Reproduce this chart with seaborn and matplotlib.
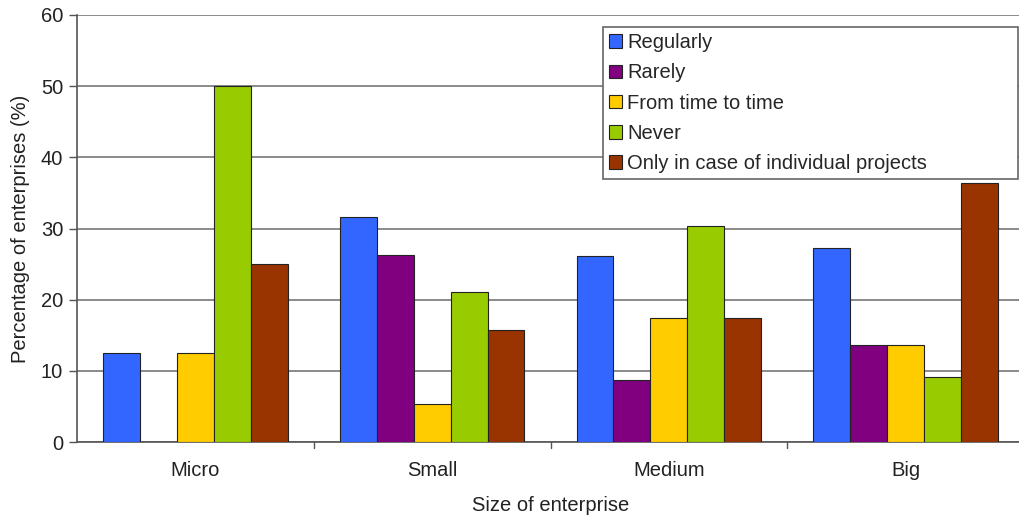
import matplotlib
matplotlib.use("Agg")
import matplotlib.pyplot as plt
import seaborn as sns
import pandas as pd

sizes = ["Micro", "Small", "Medium", "Big"]
frequencies = ["Regularly", "Rarely", "From time to time", "Never",
               "Only in case of individual projects"]
regularly = [12.5, 31.6, 26.1, 27.3]
rarely = [0.0, 26.3, 8.7, 13.6]
time_to_time = [12.5, 5.3, 17.4, 13.6]
never = [50.0, 21.1, 30.4, 9.1]
individual = [25.0, 15.8, 17.4, 36.4]
colors = ["#3366FF", "#800080", "#FFCC00", "#99CC00", "#993300"]
y_ticks = [0, 10, 20, 30, 40, 50, 60]

series = [regularly, rarely, time_to_time, never, individual]
rows = []
for freq, vals in zip(frequencies, series):
    for size, v in zip(sizes, vals):
        rows.append({"size": size, "freq": freq, "pct": v})
df = pd.DataFrame(rows)

sns.set_theme(style="white")
plt.rcParams["font.family"] = ["Liberation Sans", "DejaVu Sans"]

FS = 14.5
fig = plt.figure(figsize=(10.19, 5.17), dpi=100)
ax = fig.add_axes([77 / 1019, 75 / 517, (1024 - 77) / 1019, (442 - 15) / 517])

sns.barplot(data=df, x="size", y="pct", hue="freq", order=sizes,
            hue_order=frequencies, palette=colors, saturation=1,
            width=0.78, gap=0, edgecolor="#222222", linewidth=0.8,
            errorbar=None, ax=ax, zorder=3)

ax.set_ylim(0, 60)
ax.set_xlim(-0.5, 3.5)
ax.set_yticks(y_ticks)
ax.set_yticklabels([str(t) for t in y_ticks], fontsize=FS, color="#222222")
ax.set_xticks(range(len(sizes)))
ax.set_xticklabels(sizes, fontsize=FS, color="#222222")
ax.tick_params(axis="x", length=0, pad=14)
ax.tick_params(axis="y", length=6, width=1, color="#555555", left=True,
               direction="out", pad=4)

# small separator ticks between groups on the category axis
for b in [0.5, 1.5, 2.5]:
    ax.plot([b, b], [0, -0.9], color="#555555", lw=1, clip_on=False, zorder=4)

ax.yaxis.grid(True, color="#777777", linewidth=1.2)
ax.set_axisbelow(True)
for side in ["top", "right"]:
    ax.spines[side].set_visible(False)
for side in ["left", "bottom"]:
    ax.spines[side].set_color("#555555")
    ax.spines[side].set_linewidth(1.2)

ax.set_xlabel("Size of enterprise", fontsize=FS, color="#222222", labelpad=11)
ax.set_ylabel("Percentage of enterprises (%)", fontsize=FS, color="#222222",
              labelpad=8)

x0 = (603 - 77) / (1024 - 77)
w = (1018 - 603) / (1024 - 77)
y1 = 1 - 12 / 427
h = (176 - 27) / 427
leg = ax.legend(loc="upper left", bbox_to_anchor=(x0, y1 - h, w, h),
                mode="expand", fontsize=FS, frameon=True, fancybox=False,
                framealpha=1, borderpad=0.3, handlelength=0.65,
                handleheight=0.65, handletextpad=0.25, labelspacing=0.56,
                borderaxespad=0)
leg.get_frame().set_edgecolor("#666666")
leg.get_frame().set_linewidth(1.2)
leg.set_zorder(10)

fig.savefig("out.png", dpi=100)
